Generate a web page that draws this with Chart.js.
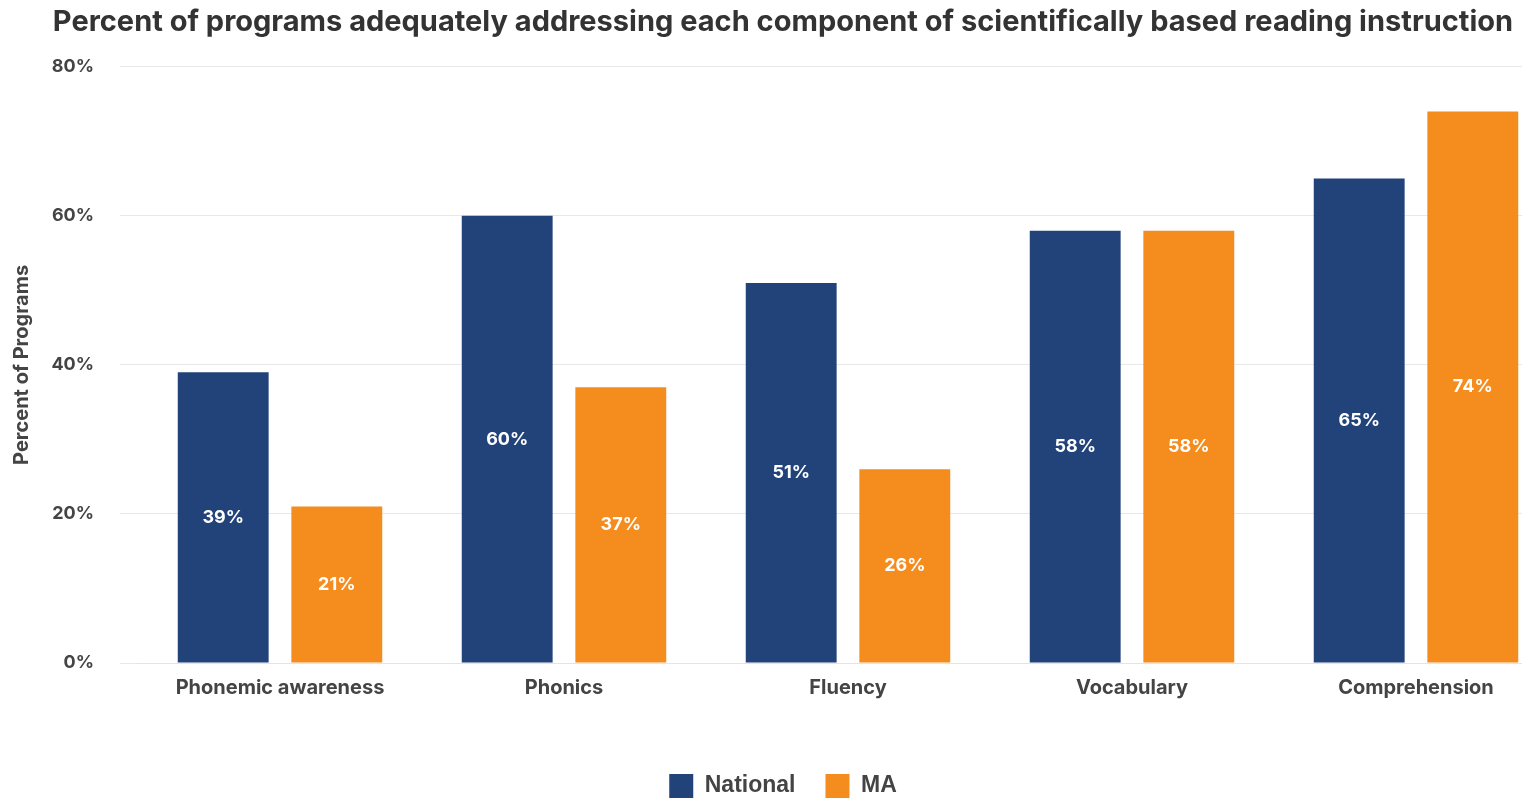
<!DOCTYPE html>
<html>
<head>
<meta charset="utf-8">
<script src="https://cdn.jsdelivr.net/npm/chart.js@4"></script>
<style>
  html, body { margin: 0; padding: 0; background: #fff; overflow: hidden; }
  #wrap { width: 1566px; height: 808px; position: relative; }
</style>
</head>
<body>
<div id="wrap"><canvas id="chart"></canvas></div>
<script>
const categories = ['Phonemic awareness', 'Phonics', 'Fluency', 'Vocabulary', 'Comprehension'];
const nationalValues = [39, 60, 51, 58, 65];
const maValues = [21, 37, 26, 58, 74];
const seriesNames = ['National', 'MA'];
const yTicks = [0, 20, 40, 60, 80];

const NAVY = '#22437a';
const ORANGE = '#f48c1e';
const TEXT = '#444444';
const LABEL_FONT = 'Inter, "Liberation Sans", Arial, sans-serif';
const LEGEND_FONT = '"Liberation Sans", Arial, sans-serif';

// White value labels centred inside each bar
const barValueLabels = {
  id: 'barValueLabels',
  afterDatasetsDraw(chart) {
    const ctx = chart.ctx;
    ctx.save();
    ctx.fillStyle = '#ffffff';
    ctx.font = 'bold 18px ' + LABEL_FONT;
    ctx.textAlign = 'center';
    ctx.textBaseline = 'middle';
    chart.data.datasets.forEach((ds, i) => {
      chart.getDatasetMeta(i).data.forEach((bar, j) => {
        const mid = (bar.y + bar.base) / 2;
        ctx.fillText(ds.data[j] + '%', bar.x, mid);
      });
    });
    ctx.restore();
  }
};

new Chart(document.getElementById('chart'), {
  type: 'bar',
  data: {
    labels: categories,
    datasets: [
      { label: seriesNames[0], data: nationalValues, backgroundColor: NAVY },
      { label: seriesNames[1], data: maValues, backgroundColor: ORANGE }
    ]
  },
  options: {
    responsive: true,
    maintainAspectRatio: false,
    animation: false,
    layout: { padding: { left: 8, right: 8, top: 0, bottom: 0 } },
    categoryPercentage: 0.8,
    barPercentage: 0.8,
    plugins: {
      title: {
        display: true,
        text: 'Percent of programs adequately addressing each component of scientifically based reading instruction',
        color: '#333333',
        font: { family: 'Inter, Roboto, sans-serif', size: 29, weight: 'bold' },
        padding: { top: 5, bottom: 27 }
      },
      legend: {
        position: 'bottom',
        labels: {
          boxWidth: 24,
          boxHeight: 24,
          padding: 30,
          color: TEXT,
          font: { family: LEGEND_FONT, size: 23, weight: 'bold' }
        }
      },
      tooltip: { enabled: false }
    },
    scales: {
      x: {
        grid: { display: false },
        border: { color: '#e4e4e4' },
        ticks: {
          color: TEXT,
          padding: 5,
          font: { family: LABEL_FONT, size: 20, weight: 'bold' }
        },
        afterFit(scale) { scale.height += 39; }
      },
      y: {
        min: 0,
        max: 80,
        afterBuildTicks(scale) { scale.ticks = yTicks.map(v => ({ value: v })); },
        grid: { color: '#e8e8e8', tickLength: 18 },
        border: { display: false },
        ticks: {
          color: TEXT,
          padding: 26,
          font: { family: LABEL_FONT, size: 18, weight: 'bold' },
          callback: v => v + '%'
        },
        title: {
          display: true,
          text: 'Percent of Programs',
          color: TEXT,
          font: { family: LABEL_FONT, size: 20, weight: 'bold' },
          padding: { top: 2, bottom: 8 }
        },
        afterFit(scale) { scale.width = 130; }
      }
    }
  },
  plugins: [barValueLabels]
});
</script>
</body>
</html>
